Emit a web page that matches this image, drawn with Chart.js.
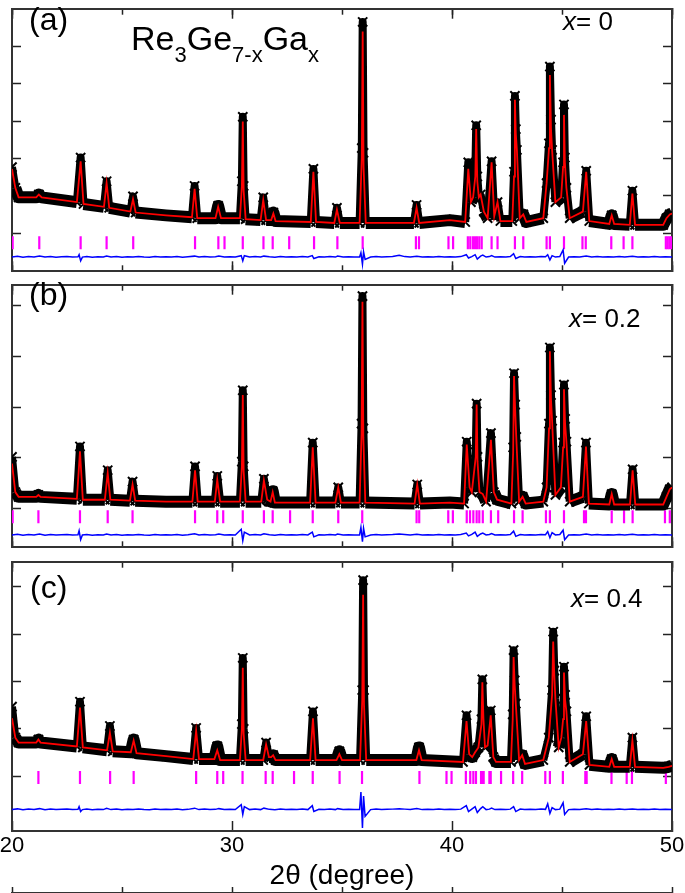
<!DOCTYPE html>
<html>
<head>
<meta charset="utf-8">
<script src="https://cdn.jsdelivr.net/npm/chart.js@4.4.1/dist/chart.umd.min.js"></script>
<style>
  body { margin: 0; background: #fff; width: 685px; height: 893px; position: relative; overflow: hidden;
         font-family: "Liberation Sans", Arial, sans-serif; }
  canvas { position: absolute; left: 0; }
  .lbl { position: absolute; line-height: 1; color: #000; white-space: nowrap; }
  .lbl sub { font-size: 22px; vertical-align: -12px; line-height: 1; }
</style>
</head>
<body>
<canvas id="chartA" width="685" height="280" style="top:0px"></canvas>
<canvas id="chartB" width="685" height="280" style="top:276px"></canvas>
<canvas id="chartC" width="685" height="340" style="top:553px"></canvas>

<div class="lbl" style="left:29px;top:3px;font-size:32px">(a)</div>
<div class="lbl" style="left:131px;top:21px;font-size:34px">Re<sub>3</sub>Ge<sub>7-x</sub>Ga<sub>x</sub></div>
<div class="lbl" style="left:563px;top:8px;font-size:26px"><i>x</i>= 0</div>
<div class="lbl" style="left:29px;top:278px;font-size:32px">(b)</div>
<div class="lbl" style="left:569px;top:305px;font-size:26px"><i>x</i>= 0.2</div>
<div class="lbl" style="left:30px;top:571px;font-size:32px">(c)</div>
<div class="lbl" style="left:571px;top:585px;font-size:26px"><i>x</i>= 0.4</div>

<script>
// ---- panel (a): x = 0 ----
var xA = [20.0, 20.15, 20.3, 21.1, 21.22, 21.35, 22.95, 23.12, 23.25, 24.18, 24.3, 24.42, 25.38, 25.5, 25.62,
  27.0, 28.18, 28.3, 28.42, 29.25, 29.37, 29.5, 30.36, 30.45, 30.49, 30.53, 30.62, 31.3, 31.42, 31.55, 31.78, 31.88, 31.98,
  33.58, 33.7, 33.82, 34.65, 34.77, 34.9, 35.8, 35.9, 35.94, 35.98, 36.08, 38.27, 38.39, 38.51, 39.9, 40.6, 40.74, 40.86,
  40.96, 41.06, 41.1, 41.15, 41.22, 41.3, 41.45, 41.62, 41.8, 41.92, 42.07, 42.2, 42.74, 42.82, 42.86, 42.9, 42.95, 43.08, 43.24, 43.38,
  44.15, 44.3, 44.41, 44.45, 44.5, 44.55, 44.7, 44.96, 45.05, 45.09, 45.13, 45.2, 45.35, 45.95, 46.1, 46.24, 47.15, 47.26, 47.37, 48.08,
  48.2, 48.32, 49.6, 49.75, 49.9, 50.0];
var calcA = [2160, 1760, 1560, 1560, 1620, 1560, 1460, 2320, 1420, 1360, 1860, 1340, 1260, 1520, 1240,
  1180, 1140, 1740, 1120, 1120, 1360, 1120, 1120, 1800, 3160, 1700, 1100, 1080, 1500, 1080, 1080, 1220, 1060,
  1040, 2100, 1040, 1020, 1300, 1020, 1020, 2400, 5060, 2200, 1020, 1020, 1340, 1020, 1080, 1040, 2160, 1460,
  1560, 2000, 3000, 1900, 1560, 1620, 1260, 1120, 2300, 1160, 1460, 1060, 1060, 2000, 3620, 2900, 2560, 1120, 1200, 1040,
  1120, 1860, 2600, 4140, 3000, 2560, 1460, 1560, 2200, 3300, 2300, 1760, 1120, 1260, 2100, 1060, 1000, 1180, 1000, 980,
  1640, 980, 980, 1120, 1200, 1220];
var obsA = [2200, 1760, 1560, 1560, 1620, 1560, 1460, 2400, 1420, 1360, 1900, 1340, 1260, 1580, 1240,
  1180, 1140, 1800, 1120, 1120, 1380, 1120, 1120, 1900, 3260, 1800, 1100, 1080, 1560, 1080, 1080, 1240, 1060,
  1040, 2160, 1040, 1020, 1340, 1020, 1020, 2600, 5260, 2500, 1020, 1020, 1400, 1020, 1080, 1040, 2300, 1460,
  1560, 2100, 3080, 2000, 1560, 1620, 1260, 1120, 2320, 1160, 1460, 1060, 1060, 2100, 3700, 3000, 2560, 1120, 1200, 1040,
  1120, 1860, 2700, 4320, 3200, 2560, 1460, 1560, 2300, 3520, 2400, 1760, 1120, 1260, 2120, 1060, 1000, 1180, 1000, 980,
  1700, 980, 980, 1120, 1200, 1220];
var braggA = [20.03, 21.24, 23.12, 24.3, 25.51, 28.32, 29.38, 29.66, 30.49, 31.43, 31.85, 32.6, 33.73, 34.79,
  35.94, 38.36, 38.5, 39.84, 40.05, 40.72, 40.83, 40.95, 41.05, 41.14, 41.24, 41.35, 41.8, 42.07, 42.86,
  43.24, 44.3, 44.45, 45.09, 45.93, 46.08, 47.24, 47.8, 48.2, 49.72, 49.8, 49.88, 49.96];

// ---- panel (b): x = 0.2 ----
var xB = [20.0, 20.15, 20.3, 21.1, 21.2, 21.3, 22.95, 23.09, 23.22, 24.22, 24.35, 24.47, 25.36, 25.48, 25.6,
  27.0, 28.2, 28.32, 28.44, 29.22, 29.33, 29.46, 30.36, 30.45, 30.49, 30.53, 30.62, 31.33, 31.45, 31.6, 31.75, 31.85, 31.95,
  33.55, 33.67, 33.8, 34.7, 34.83, 34.95, 35.8, 35.89, 35.93, 35.97, 36.06, 38.3, 38.42, 38.54, 39.9, 40.55, 40.67, 40.8,
  40.9, 41.08, 41.12, 41.16, 41.25, 41.4, 41.55, 41.77, 41.9, 42.05, 42.7, 42.78, 42.82, 42.87, 42.92, 43.05, 43.21, 43.35,
  44.15, 44.3, 44.41, 44.45, 44.5, 44.55, 44.7, 44.95, 45.05, 45.09, 45.14, 45.2, 45.35, 45.95, 46.09, 46.22, 47.15, 47.26, 47.37,
  48.09, 48.21, 48.33, 49.6, 49.75, 49.9, 50.0];
var calcB = [1760, 1160, 1060, 1060, 1100, 1060, 1020, 2020, 1000, 1000, 1560, 1000, 980, 1320, 980,
  960, 960, 1620, 960, 960, 1420, 960, 960, 1700, 3200, 1600, 960, 960, 1400, 1000, 960, 1160, 940,
  940, 2100, 940, 940, 1260, 940, 940, 2400, 5160, 2300, 940, 920, 1320, 920, 940, 920, 2160, 1260,
  1160, 1900, 3000, 1800, 1160, 1120, 960, 2260, 1160, 1000, 920, 2000, 3600, 2900, 2320, 960, 1060, 920,
  960, 1260, 2500, 4120, 3100, 2660, 1100, 1260, 2100, 3320, 2600, 2220, 960, 1060, 2120, 920, 900, 1120, 900,
  900, 1620, 900, 900, 1060, 1220, 1260];
var obsB = [1900, 1160, 1060, 1060, 1100, 1060, 1020, 2120, 1000, 1000, 1620, 1000, 980, 1380, 980,
  960, 960, 1700, 960, 960, 1500, 960, 960, 1800, 3300, 1700, 960, 960, 1440, 1000, 960, 1180, 940,
  940, 2200, 940, 940, 1260, 940, 940, 2600, 5280, 2500, 940, 920, 1320, 920, 940, 920, 2220, 1260,
  1160, 2000, 3020, 1900, 1160, 1120, 960, 2400, 1160, 1000, 920, 2100, 3660, 3000, 2320, 960, 1060, 920,
  960, 1260, 2600, 4200, 3200, 2660, 1100, 1260, 2200, 3420, 2700, 2220, 960, 1060, 2200, 920, 900, 1120, 900,
  900, 1640, 900, 900, 1060, 1220, 1260];
var braggB = [20.03, 21.2, 23.09, 24.35, 25.48, 28.32, 29.33, 29.6, 30.49, 31.45, 31.85, 32.64, 33.67, 34.83,
  35.92, 38.39, 38.51, 39.83, 40.04, 40.67, 40.82, 40.97, 41.12, 41.24, 41.4, 41.77, 42.1, 42.82, 43.21,
  44.27, 44.45, 45.09, 46.0, 46.09, 47.26, 47.82, 48.21, 49.68, 49.9];

// ---- panel (c): x = 0.4 ----
var xC = [20.0, 20.15, 20.3, 21.1, 21.2, 21.3, 22.95, 23.09, 23.22, 24.32, 24.45, 24.58, 25.4, 25.53, 25.66,
  27.0, 28.24, 28.37, 28.5, 29.2, 29.33, 29.46, 30.36, 30.45, 30.49, 30.53, 30.62, 31.42, 31.55, 31.68, 31.78, 31.87, 31.98,
  33.55, 33.68, 33.8, 34.75, 34.88, 35.0, 35.82, 35.92, 35.96, 36.0, 36.1, 38.38, 38.5, 38.62, 40.5, 40.66, 40.78,
  40.92, 41.05, 41.2, 41.34, 41.38, 41.43, 41.5, 41.62, 41.76, 41.88, 42.0, 42.68, 42.76, 42.8, 42.85, 42.9, 43.05, 43.19, 43.32,
  44.15, 44.4, 44.55, 44.6, 44.65, 44.7, 44.85, 44.97, 45.05, 45.09, 45.14, 45.2, 45.35, 45.95, 46.1, 46.25, 47.15, 47.26, 47.37,
  48.08, 48.2, 48.32, 49.6, 49.85, 50.0];
var calcC = [2320, 1920, 1820, 1820, 1880, 1820, 1740, 2540, 1720, 1660, 2020, 1640, 1620, 1860, 1600,
  1540, 1480, 2060, 1480, 1480, 1660, 1460, 1460, 2100, 3360, 2000, 1460, 1460, 1780, 1520, 1520, 1560, 1460,
  1460, 2320, 1460, 1460, 1580, 1460, 1460, 2700, 4860, 2600, 1460, 1460, 1660, 1460, 1420, 2260, 1580,
  1520, 1620, 1720, 2200, 3060, 2300, 1720, 1760, 2380, 1520, 1420, 1420, 2300, 3580, 3000, 2620, 1460, 1560, 1380,
  1460, 1920, 2800, 3900, 3200, 2720, 1720, 1920, 2300, 3260, 2700, 2460, 1420, 1580, 2260, 1360, 1320, 1480, 1320,
  1320, 1860, 1320, 1300, 1320, 1340];
var obsC = [2560, 1920, 1820, 1820, 1880, 1820, 1740, 2660, 1720, 1660, 2160, 1640, 1620, 1880, 1600,
  1540, 1480, 2120, 1480, 1480, 1740, 1460, 1460, 2200, 3560, 2100, 1460, 1460, 1820, 1520, 1520, 1560, 1460,
  1460, 2460, 1460, 1460, 1640, 1460, 1460, 2900, 5160, 2900, 1460, 1460, 1720, 1460, 1420, 2380, 1580,
  1520, 1620, 1720, 2300, 3120, 2400, 1720, 1760, 2480, 1520, 1420, 1420, 2400, 3720, 3100, 2620, 1460, 1560, 1380,
  1460, 1920, 2900, 4100, 3300, 2720, 1720, 1920, 2400, 3380, 2800, 2460, 1420, 1580, 2360, 1360, 1320, 1480, 1320,
  1320, 1920, 1320, 1300, 1320, 1340];
var braggC = [21.2, 23.09, 24.46, 25.53, 28.37, 29.33, 29.6, 30.48, 31.53, 31.85, 32.82, 33.67, 34.89, 35.91,
  38.52, 39.75, 39.98, 40.63, 40.83, 40.97, 41.09, 41.32, 41.38, 41.44, 41.7, 41.76, 42.23, 42.78, 43.19,
  44.24, 44.45, 45.04, 46.06, 46.12, 47.25, 47.94, 48.18, 49.72];

// ---- difference curves (obs - calc, shifted below the ticks) ----
var diffX = [20, 20.25, 20.5, 20.75, 21.0, 21.25, 21.5, 21.75, 22.0, 22.25,
  22.5, 22.75, 23.0, 23.05, 23.12, 23.2, 23.4, 23.65, 23.9, 24.15,
  24.3, 24.5, 24.75, 25.0, 25.25, 25.5, 25.75, 26.0, 26.25, 26.5,
  26.75, 27.0, 27.25, 27.5, 27.75, 28.0, 28.3, 28.5, 28.75, 29.0,
  29.25, 29.4, 29.65, 29.9, 30.15, 30.42, 30.49, 30.56, 30.8, 31.05,
  31.3, 31.45, 31.7, 31.95, 32.2, 32.45, 32.7, 32.95, 33.2, 33.45,
  33.65, 33.72, 33.95, 34.2, 34.45, 34.7, 34.8, 35.05, 35.3, 35.55,
  35.8, 35.86, 35.93, 35.98, 36.05, 36.3, 36.55, 36.8, 37.05, 37.3,
  37.6, 37.85, 38.1, 38.4, 38.65, 38.9, 39.15, 39.4, 39.65, 39.9,
  40.15, 40.4, 40.65, 40.75, 40.9, 41.05, 41.15, 41.3, 41.4, 41.55,
  41.7, 41.8, 41.95, 42.2, 42.45, 42.65, 42.8, 42.9, 43.1, 43.3,
  43.55, 43.8, 44.05, 44.25, 44.35, 44.45, 44.55, 44.7, 44.9, 45.05,
  45.12, 45.3, 45.55, 45.8, 46.1, 46.35, 46.6, 46.85, 47.1, 47.35,
  47.6, 47.85, 48.2, 48.45, 48.7, 48.95, 49.2, 49.45, 49.7, 50];
var diffA = [300, 315, 295, 310, 300, 320, 300, 310, 295, 305,
  310, 300, 305, 350, 220, 300, 310, 295, 305, 300,
  320, 300, 310, 295, 305, 300, 310, 300, 295, 310,
  300, 305, 300, 310, 295, 305, 320, 300, 310, 300,
  305, 320, 300, 305, 300, 330, 220, 330, 300, 310,
  300, 320, 305, 295, 310, 300, 305, 300, 310, 300,
  330, 270, 305, 300, 310, 300, 320, 300, 305, 300,
  300, 390, 150, 410, 250, 300, 310, 300, 305, 310,
  340, 310, 300, 315, 300, 305, 300, 310, 300, 305,
  300, 310, 350, 280, 310, 350, 260, 320, 340, 300,
  310, 330, 300, 305, 300, 310, 370, 270, 310, 300,
  305, 300, 310, 305, 350, 240, 330, 300, 310, 450,
  170, 300, 305, 300, 320, 300, 310, 300, 305, 300,
  310, 300, 315, 300, 305, 300, 310, 300, 305, 300];
var diffB = [260, 275, 255, 270, 260, 280, 255, 270, 260, 265,
  270, 260, 265, 350, 160, 260, 270, 255, 265, 260,
  280, 260, 270, 255, 265, 260, 270, 260, 255, 270,
  260, 265, 260, 270, 255, 265, 285, 260, 270, 260,
  265, 280, 260, 265, 260, 380, 140, 320, 260, 270,
  260, 285, 265, 255, 270, 260, 265, 260, 270, 260,
  320, 220, 265, 260, 270, 260, 280, 260, 265, 260,
  260, 420, 120, 400, 220, 260, 270, 260, 265, 270,
  280, 270, 260, 275, 260, 265, 260, 270, 260, 265,
  260, 270, 300, 240, 270, 320, 230, 280, 300, 260,
  270, 290, 260, 265, 260, 270, 340, 230, 270, 260,
  265, 260, 270, 265, 330, 200, 310, 260, 270, 360,
  160, 260, 265, 260, 280, 260, 270, 260, 265, 260,
  270, 260, 275, 260, 265, 260, 270, 260, 265, 260];
var diffC = [440, 455, 435, 450, 440, 460, 435, 450, 440, 445,
  450, 440, 445, 500, 400, 440, 450, 435, 445, 440,
  465, 440, 450, 435, 445, 440, 450, 440, 435, 450,
  440, 445, 440, 450, 435, 445, 470, 440, 450, 440,
  445, 460, 440, 445, 440, 540, 340, 500, 440, 450,
  440, 470, 445, 435, 450, 440, 445, 440, 450, 440,
  520, 400, 445, 440, 450, 440, 460, 440, 445, 440,
  440, 800, 60, 720, 300, 440, 450, 440, 445, 450,
  460, 450, 440, 465, 440, 445, 440, 450, 440, 445,
  440, 450, 520, 400, 450, 500, 380, 460, 500, 440,
  450, 470, 440, 445, 440, 450, 500, 400, 450, 440,
  445, 440, 450, 445, 560, 360, 480, 440, 450, 580,
  340, 440, 445, 440, 460, 440, 450, 440, 445, 440,
  450, 440, 455, 440, 445, 440, 450, 440, 445, 440];

// ---- y scales (arbitrary intensity units) ----
var yMaxA = 5540, yTicksA = [800, 1590, 2380, 3170, 3960, 4750], braggLevelA = 600;
var yMaxB = 5520, yTicksB = [820, 1880, 2940, 4010, 5080], braggLevelB = 640;
var yMaxC = 5540, yTicksC = [1120, 2100, 3080, 4050, 5030], braggLevelC = 1100;
var xTickLabels = [20, 30, 40, 50];

var FONT = '"Liberation Sans", Arial, sans-serif';

function pairs(xs, ys) {
  return xs.map(function (x, i) { return { x: x, y: ys[i] }; });
}

function xAxis(pos, step, len, withLabels) {
  return {
    type: 'linear', position: pos, min: 20, max: 50,
    ticks: {
      stepSize: step, display: withLabels, autoSkip: false, maxRotation: 0, padding: 12,
      color: '#000', font: { family: FONT, size: 22 },
      callback: function (v) { return xTickLabels.indexOf(v) >= 0 ? String(v) : ''; }
    },
    grid: { drawOnChartArea: false, tickLength: len, tickColor: '#222', tickWidth: 1.5 },
    border: { color: '#333', width: 2 },
    title: { display: withLabels, text: '2θ (degree)', color: '#000', padding: 0,
             font: { family: FONT, size: 28 } },
    afterFit: function (s) { s.height = withLabels ? 62 : 0; s.paddingLeft = 0; s.paddingRight = 0; }
  };
}

function yAxis(pos, yMax, tickVals) {
  return {
    type: 'linear', position: pos, min: 0, max: yMax,
    ticks: { display: false },
    afterBuildTicks: function (s) { s.ticks = tickVals.map(function (v) { return { value: v }; }); },
    grid: { drawOnChartArea: false, tickLength: -9, tickColor: '#222', tickWidth: 1.5 },
    border: { color: '#333', width: 2 },
    afterFit: function (s) { s.width = 0; s.paddingTop = 0; s.paddingBottom = 0; }
  };
}

// thick band along the background, a bit thinner where the observed profile climbs a peak
function obsSegmentWidth(ctx) {
  return Math.abs(ctx.p1.y - ctx.p0.y) > 14 ? 8 : undefined;
}

function createPanelConfig(xs, calc, obs, bragg, braggLevel, diff, yMax, yTicks, bottom, pad) {
  return {
    type: 'scatter',
    data: {
      datasets: [
        { label: 'calc', data: pairs(xs, calc), showLine: true, borderColor: '#ff0000',
          borderWidth: 1.8, pointRadius: 0, clip: 0 },
        { label: 'obs', data: pairs(xs, obs), showLine: true, borderColor: '#000',
          borderWidth: 12, borderJoinStyle: 'round', segment: { borderWidth: obsSegmentWidth },
          pointStyle: 'crossRot', pointRadius: 6.5, pointBorderColor: '#000', pointBorderWidth: 2, clip: 0 },
        { label: 'diff', data: pairs(diffX, diff), showLine: true, borderColor: '#0000ff',
          borderWidth: 1.5, pointRadius: 0, clip: 0 },
        { label: 'bragg', data: bragg.map(function (x) { return { x: x, y: braggLevel }; }),
          showLine: false, pointStyle: 'line', rotation: 90, pointRadius: 6.5,
          borderColor: '#ff00ff', pointBorderColor: '#ff00ff', pointBorderWidth: 2.2 }
      ]
    },
    options: {
      responsive: false,
      animation: false,
      devicePixelRatio: 1,
      layout: { padding: pad },
      plugins: { legend: { display: false }, tooltip: { enabled: false } },
      scales: {
        x: xAxis('bottom', 10, -10, bottom),
        xMinor: xAxis('bottom', 5, -6, false),
        xTop: xAxis('top', 10, -10, false),
        xTopMinor: xAxis('top', 5, -6, false),
        y: yAxis('left', yMax, yTicks),
        yRight: yAxis('right', yMax, yTicks)
      }
    }
  };
}

var chartA = new Chart(document.getElementById('chartA'),
  createPanelConfig(xA, calcA, obsA, braggA, braggLevelA, diffA, yMaxA, yTicksA, false,
    { left: 12, right: 13, top: 1, bottom: 2 }));
var chartB = new Chart(document.getElementById('chartB'),
  createPanelConfig(xB, calcB, obsB, braggB, braggLevelB, diffB, yMaxB, yTicksB, false,
    { left: 12, right: 13, top: 1, bottom: 3 }));
var chartC = new Chart(document.getElementById('chartC'),
  createPanelConfig(xC, calcC, obsC, braggC, braggLevelC, diffC, yMaxC, yTicksC, true,
    { left: 12, right: 13, top: 1, bottom: 0 }));
</script>
</body>
</html>
